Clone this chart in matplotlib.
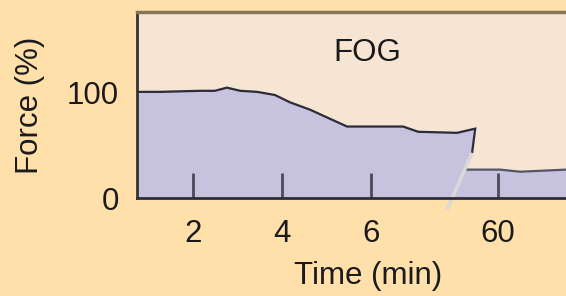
import numpy as np
import matplotlib
matplotlib.use("Agg")
import matplotlib.pyplot as plt

plt.rcParams['font.family'] = ['Liberation Sans', 'DejaVu Sans']

# ---- data (x = position on the broken time axis, force in %) ----
seg1_x = [0.74, 1.26, 2.16, 2.49, 2.76, 3.06, 3.44, 3.84, 4.18, 4.63, 5.46, 6.72, 7.06, 7.93, 8.34, 8.27]
seg1_force = [101, 101, 102, 102, 105, 102, 101, 98, 91, 84, 68, 68, 63, 62, 66, 43]
seg2_x = [8.10, 8.90, 9.35, 10.38]
seg2_force = [27, 27, 25, 27]
tick_pos = [2, 4, 6, 8.85]
tick_labels = ['2', '4', '6', '60']
ytick_vals = [0, 100]
ytick_labels = ['0', '100']
break_bottom = (7.71, -11.0)

fig_bg = '#FFDFAA'
ax_bg = '#F5E5D2'
fill_c = '#C7C3DE'
line_c = '#2b2b3a'

fig = plt.figure(figsize=(5.66, 2.96), dpi=100, facecolor=fig_bg)
ax = fig.add_axes([137/566, (296-198)/296, 1 - 137/566, (198-12)/296])
ax.set_facecolor(ax_bg)
ax.set_xlim(0.74, 10.38)
ax.set_ylim(0, 177)

# break line geometry
bx0, by0 = seg1_x[-1], seg1_force[-1]
bx1, by1 = break_bottom
def bx_at(y):
    return bx0 + (bx1 - bx0) * (y - by0) / (by1 - by0)

x_base = bx_at(0)
x_seg2 = bx_at(seg2_force[0])

poly1_x = list(seg1_x) + [x_base, seg1_x[0]]
poly1_y = list(seg1_force) + [0, 0]
ax.fill(poly1_x, poly1_y, color=fill_c, lw=0, zorder=1)
sx = [x_seg2] + seg2_x[1:]
poly2_x = sx + [seg2_x[-1], x_base]
poly2_y = list(seg2_force) + [0, 0]
ax.fill(poly2_x, poly2_y, color=fill_c, lw=0, zorder=1)

ax.plot(seg1_x, seg1_force, color=line_c, lw=1.6, zorder=3, solid_joinstyle='miter')
ax.plot(sx, seg2_force, color='#555565', lw=1.6, zorder=3)
ax.plot([bx0, bx1], [by0, by1], color='#d9d9d9', lw=2.6, zorder=4, clip_on=False,
        solid_capstyle='butt')

ax.text(367/566, 1 - 53/296, 'FOG', transform=fig.transFigure, ha='center', va='center',
        fontsize=22.5, color='#1a1a1a')

ax.set_xticks(tick_pos)
ax.set_xticklabels(tick_labels)
ax.set_yticks(ytick_vals)
ax.set_yticklabels(ytick_labels)
ax.tick_params(axis='x', direction='in', length=18, width=2, color='#4a4a5a',
               labelsize=22.5, pad=15, labelcolor='#1a1a1a')
ax.tick_params(axis='y', length=0, labelsize=22.5, pad=13, labelcolor='#1a1a1a')

for s in ['right']:
    ax.spines[s].set_visible(False)
ax.spines['top'].set_color('#85755a')
ax.spines['top'].set_linewidth(2.5)
ax.spines['left'].set_color('#333333')
ax.spines['left'].set_linewidth(2)
ax.spines['bottom'].set_color('#2d2d3a')
ax.spines['bottom'].set_linewidth(2)
ax.spines['bottom'].set_zorder(5)

fig.text(30/566, 1 - 105/296, 'Force (%)', rotation=90, ha='center', va='center',
         fontsize=22.5, color='#1a1a1a')
fig.text(368/566, 1 - 276/296, 'Time (min)', ha='center', va='center',
         fontsize=22.5, color='#1a1a1a')

fig.savefig('out.png', dpi=100, facecolor=fig_bg)
